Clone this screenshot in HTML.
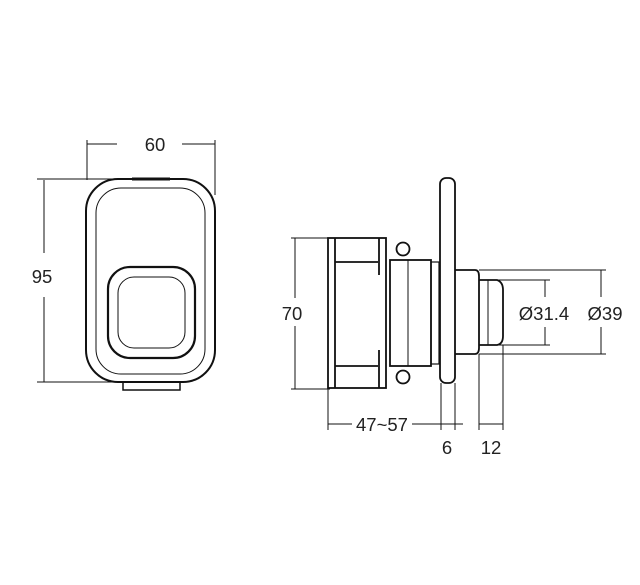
<!DOCTYPE html>
<html><head><style>body{margin:0;background:#fff}svg{display:block}text{font-family:"Liberation Sans",sans-serif;font-size:18.5px;fill:#222}</style></head><body>
<svg width="640" height="585" viewBox="0 0 640 585" fill="none" stroke="#111">
<!-- left view -->
<g stroke-width="1">
<line x1="87" y1="140" x2="87" y2="180"/><line x1="215" y1="140" x2="215" y2="195"/>
<line x1="87" y1="144" x2="117" y2="144"/><line x1="182" y1="144" x2="215" y2="144"/>
<line x1="37" y1="179" x2="115" y2="179"/><line x1="37" y1="382" x2="128" y2="382"/>
<line x1="44" y1="180" x2="44" y2="253"/><line x1="44" y1="297" x2="44" y2="382"/>
</g>
<text x="155" y="151" text-anchor="middle" stroke="none">60</text>
<text x="42" y="283" text-anchor="middle" stroke="none">95</text>
<rect x="86" y="179" width="129" height="203" rx="32" stroke-width="2"/>
<line x1="132" y1="179" x2="170" y2="179" stroke-width="3"/>
<rect x="96" y="188" width="109" height="186" rx="25" stroke-width="1"/>
<path d="M123 383 V390 H180 V383" stroke-width="1.5"/>
<rect x="108" y="267" width="87" height="91" rx="22" stroke-width="2.2"/>
<rect x="118" y="277" width="67" height="71" rx="16" stroke-width="1"/>
<!-- right view dims -->
<g stroke-width="1">
<line x1="291" y1="238" x2="330" y2="238"/><line x1="291" y1="389" x2="330" y2="389"/>
<line x1="295" y1="238" x2="295" y2="298"/><line x1="295" y1="326" x2="295" y2="389"/>
<line x1="328" y1="389" x2="328" y2="430"/><line x1="441" y1="383" x2="441" y2="430"/><line x1="455" y1="383" x2="455" y2="430"/>
<line x1="479" y1="354" x2="479" y2="430"/><line x1="503" y1="345" x2="503" y2="430"/>
<line x1="328" y1="424" x2="352" y2="424"/><line x1="412" y1="424" x2="463" y2="424"/>
<line x1="479" y1="424" x2="503" y2="424"/>
<line x1="480" y1="280" x2="550" y2="280"/><line x1="480" y1="345" x2="550" y2="345"/>
<line x1="479" y1="270" x2="606" y2="270"/><line x1="479" y1="354" x2="606" y2="354"/>
<line x1="545" y1="280" x2="545" y2="297"/><line x1="545" y1="327" x2="545" y2="345"/>
<line x1="601" y1="270" x2="601" y2="297"/><line x1="601" y1="327" x2="601" y2="354"/>
</g>
<text x="292" y="320" text-anchor="middle" stroke="none">70</text>
<text x="382" y="431" text-anchor="middle" stroke="none">47~57</text>
<text x="447" y="454" text-anchor="middle" stroke="none">6</text>
<text x="491" y="454" text-anchor="middle" stroke="none">12</text>
<text x="544" y="320" text-anchor="middle" stroke="none">Ø31.4</text>
<text x="605" y="320" text-anchor="middle" stroke="none">Ø39</text>
<!-- body -->
<g stroke-width="1.8">
<rect x="328" y="238" width="58" height="150"/>
<line x1="335" y1="238" x2="335" y2="388"/>
<line x1="335" y1="262" x2="378" y2="262"/><line x1="335" y1="366" x2="378" y2="366"/>
<line x1="379" y1="238" x2="379" y2="275"/><line x1="379" y1="350" x2="379" y2="388"/>
<rect x="390" y="260" width="41" height="106"/>
<line x1="408" y1="260" x2="408" y2="366" stroke-width="1"/>
<rect x="431" y="262" width="8" height="102" stroke-width="1.2"/>
<circle cx="403" cy="249" r="6.5"/><circle cx="403" cy="377" r="6.5"/>
<rect x="440" y="178" width="15" height="205" rx="6"/>
<path d="M455 270 H475 Q479 270 479 276 V348 Q479 354 475 354 H455"/>
<path d="M479 280 H497 Q503 282 503 290 V336 Q503 344 497 345 H479"/>
<line x1="488" y1="280" x2="488" y2="345" stroke-width="1"/>
</g>
</svg>
</body></html>
